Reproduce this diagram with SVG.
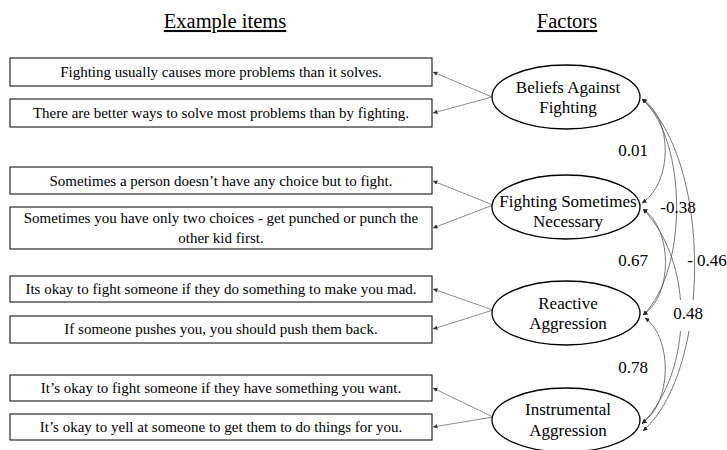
<svg xmlns="http://www.w3.org/2000/svg" width="727" height="450" viewBox="0 0 727 450">
<defs>
<style>
text{font-family:"Liberation Serif","Times New Roman",serif;fill:#000}
.hdr{font-size:20.5px;text-anchor:middle;text-decoration:underline}
.item{font-size:15px;text-anchor:middle}
.lab{font-size:17px;text-anchor:middle}
.num{font-size:17px;text-anchor:middle}
.box{fill:#fff;stroke:#000;stroke-width:1}
.ell{fill:#fff;stroke:#000;stroke-width:1.3}
.load{stroke:#808080;stroke-width:0.9;fill:none;marker-end:url(#ah)}
.cov{stroke:#555;stroke-width:0.8;fill:none;marker-start:url(#ch);marker-end:url(#ch)}
</style>
<marker id="ah" viewBox="0 0 6 6" refX="6" refY="3" markerWidth="4.5" markerHeight="4.5" markerUnits="userSpaceOnUse" orient="auto"><path d="M0,0 L6,3 L0,6 z" fill="#333"/></marker>
<marker id="ch" viewBox="0 0 6 6" refX="6" refY="3" markerWidth="4.5" markerHeight="4.5" markerUnits="userSpaceOnUse" orient="auto-start-reverse"><path d="M0,0 L6,3 L0,6 z" fill="#222"/></marker>
</defs>
<rect width="727" height="450" fill="#fff"/>
<text class="hdr" x="225" y="28">Example items</text>
<text class="hdr" x="567" y="28">Factors</text>

<g id="connectors">
<path class="load" d="M492,97 L433,72"/>
<path class="load" d="M492,97 L433,113"/>
<path class="load" d="M493,205 L433,181"/>
<path class="load" d="M493,205 L433,228"/>
<path class="load" d="M493,310 L433,289"/>
<path class="load" d="M493,310 L433,329"/>
<path class="load" d="M493,417 L433,388"/>
<path class="load" d="M493,417 L433,427"/>
<path class="cov" d="M642,99 C673,118 673,183 642,203"/>
<path class="cov" d="M642,99 C688,140 688,272 643,315"/>
<path class="cov" d="M642,99 C712,160 712,370 643,431"/>
<path class="cov" d="M643,209 C673,229 673,296 643,315"/>
<path class="cov" d="M643,209 C694,262 694,370 642,424"/>
<path class="cov" d="M645,318 C673,338 672,404 642,423"/>
</g>

<g id="item1"><rect class="box" x="10" y="58" width="422" height="28"/><text class="item" x="221" y="77">Fighting usually causes more problems than it solves.</text></g>
<g id="item2"><rect class="box" x="10" y="99" width="422" height="28"/><text class="item" x="221" y="118">There are better ways to solve most problems than by fighting.</text></g>
<g id="item3"><rect class="box" x="10" y="167" width="422" height="27"/><text class="item" x="221" y="186">Sometimes a person doesn’t have any choice but to fight.</text></g>
<g id="item4"><rect class="box" x="10" y="207" width="422" height="42"/><text class="item" x="221" y="223">Sometimes you have only two choices - get punched or punch the</text><text class="item" x="221" y="243">other kid first.</text></g>
<g id="item5"><rect class="box" x="10" y="276" width="422" height="26"/><text class="item" x="221" y="294">Its okay to fight someone if they do something to make you mad.</text></g>
<g id="item6"><rect class="box" x="10" y="316" width="422" height="27"/><text class="item" x="221" y="334">If someone pushes you, you should push them back.</text></g>
<g id="item7"><rect class="box" x="10" y="375" width="422" height="26"/><text class="item" x="221" y="393">It’s okay to fight someone if they have something you want.</text></g>
<g id="item8"><rect class="box" x="10" y="414" width="422" height="26"/><text class="item" x="221" y="432">It’s okay to yell at someone to get them to do things for you.</text></g>

<g id="f1"><ellipse class="ell" cx="566" cy="97" rx="74" ry="32"/><text class="lab" x="568" y="93">Beliefs Against</text><text class="lab" x="568" y="113">Fighting</text></g>
<g id="f2"><ellipse class="ell" cx="566" cy="207" rx="74" ry="32"/><text class="lab" x="568" y="207">Fighting Sometimes</text><text class="lab" x="568" y="227">Necessary</text></g>
<g id="f3"><ellipse class="ell" cx="566" cy="313" rx="74" ry="32"/><text class="lab" x="568" y="309">Reactive</text><text class="lab" x="568" y="329">Aggression</text></g>
<g id="f4"><ellipse class="ell" cx="566" cy="420" rx="74" ry="32"/><text class="lab" x="568" y="415">Instrumental</text><text class="lab" x="568" y="436">Aggression</text></g>

<g id="labels">
<text class="num" x="633" y="156">0.01</text>
<text class="num" x="678" y="213">-0.38</text>
<text class="num" x="633" y="266">0.67</text>
<text class="num" x="707" y="266">- 0.46</text>
<rect x="671" y="300" width="36" height="31" fill="#fff"/>
<text class="num" x="688" y="319">0.48</text>
<text class="num" x="633" y="373">0.78</text>
</g>
</svg>
